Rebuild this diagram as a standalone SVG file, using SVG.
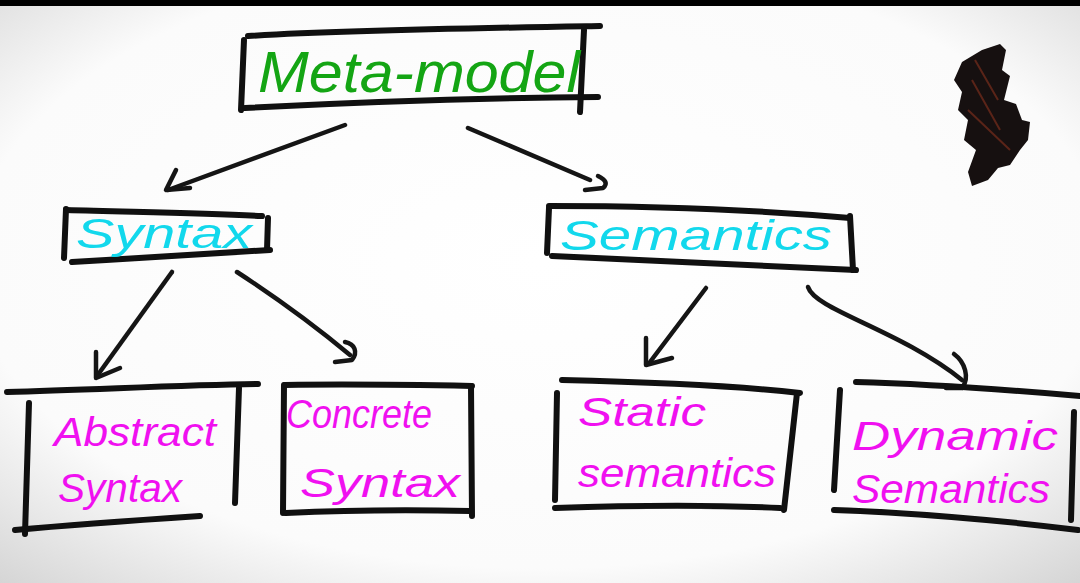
<svg xmlns="http://www.w3.org/2000/svg" width="1080" height="583" viewBox="0 0 1080 583">
<defs>
<radialGradient id="bg" cx="0.5" cy="0.45" r="0.75">
<stop offset="0" stop-color="#ffffff"/>
<stop offset="0.7" stop-color="#fbfbfb"/>
<stop offset="1" stop-color="#d4d4d4"/>
</radialGradient>
<style>
.ink{fill:none;stroke:#101010;stroke-width:6;stroke-linecap:round;stroke-linejoin:round}
.con{fill:none;stroke:#151515;stroke-width:4.5;stroke-linecap:round;stroke-linejoin:round}
.t{font-family:"Liberation Sans",Arial,sans-serif;font-style:italic}
.g{fill:#14a514;font-size:58px}
.c{fill:#12d8ec;font-size:42px}
.p{fill:#f010f0;font-size:40px}
</style>
</defs>
<rect width="1080" height="583" fill="url(#bg)"/>
<rect width="1080" height="6" fill="#000"/>

<g id="connectors">
<path class="con" d="M345 125 L168 190"/>
<path class="con" d="M176 170 L166 190 L190 188"/>
<path class="con" d="M468 128 L590 180"/>
<path class="con" d="M598 176 C606 180 608 184 603 188 L585 190"/>
<path class="con" d="M172 272 L97 376"/>
<path class="con" d="M96 352 L96 378 L120 368"/>
<path class="con" d="M237 272 C280 300 320 330 350 355"/>
<path class="con" d="M345 342 C355 344 358 352 352 360 L335 362"/>
<path class="con" d="M706 288 L650 362"/>
<path class="con" d="M646 338 L646 365 L672 358"/>
<path class="con" d="M808 287 C815 310 900 330 962 380"/>
<path class="con" d="M954 354 C965 362 970 378 962 388 L946 388"/>
</g>

<g id="metamodel">
<path class="ink" d="M248 36 C350 30 480 28 600 26"/>
<path class="ink" d="M244 40 L241 110"/>
<path class="ink" d="M584 30 L580 112"/>
<path class="ink" d="M245 108 C360 102 480 98 598 97"/>
<text class="t g" x="258" y="92" textLength="322" lengthAdjust="spacingAndGlyphs">Meta-model</text>
</g>

<g id="syntax">
<path class="ink" d="M66 209 L64 258"/>
<path class="ink" d="M66 210 C130 212 200 213 262 216"/>
<path class="ink" d="M268 218 L267 250"/>
<path class="ink" d="M72 262 C140 258 210 254 270 250"/>
<text class="t c" x="76" y="248" textLength="176" lengthAdjust="spacingAndGlyphs">Syntax</text>
</g>

<g id="semantics">
<path class="ink" d="M549 206 C650 206 760 210 850 218"/>
<path class="ink" d="M549 208 L547 253"/>
<path class="ink" d="M552 256 C650 260 760 266 856 270"/>
<path class="ink" d="M850 216 L853 270"/>
<text class="t c" x="560" y="250" textLength="272" lengthAdjust="spacingAndGlyphs">Semantics</text>
</g>

<g id="abstract">
<path class="ink" d="M7 392 C90 390 180 385 258 384"/>
<path class="ink" d="M29 403 L25 534"/>
<path class="ink" d="M239 388 L235 503"/>
<path class="ink" d="M15 530 C80 524 140 520 200 516"/>
<text class="t p" x="54" y="446" textLength="162" lengthAdjust="spacingAndGlyphs">Abstract</text>
<text class="t p" x="58" y="502" textLength="124" lengthAdjust="spacingAndGlyphs">Syntax</text>
</g>

<g id="concrete">
<path class="ink" d="M285 385 C350 384 420 385 472 386"/>
<path class="ink" d="M284 385 L283 513"/>
<path class="ink" d="M286 513 C350 510 420 510 470 511"/>
<path class="ink" d="M471 386 L472 516"/>
<text class="t p" x="286" y="428" textLength="146" lengthAdjust="spacingAndGlyphs">Concrete</text>
<text class="t p" x="300" y="497" textLength="160" lengthAdjust="spacingAndGlyphs">Syntax</text>
</g>

<g id="static">
<path class="ink" d="M562 380 C650 382 730 385 800 393"/>
<path class="ink" d="M557 393 L555 500"/>
<path class="ink" d="M797 393 L784 510"/>
<path class="ink" d="M555 508 C640 505 720 505 780 508"/>
<text class="t p" x="578" y="426" textLength="128" lengthAdjust="spacingAndGlyphs">Static</text>
<text class="t p" x="578" y="487" textLength="198" lengthAdjust="spacingAndGlyphs">semantics</text>
</g>

<g id="dynamic">
<path class="ink" d="M856 382 C930 384 1010 390 1080 396"/>
<path class="ink" d="M840 390 L834 490"/>
<path class="ink" d="M1074 412 L1071 520"/>
<path class="ink" d="M834 510 C900 512 1000 520 1078 530"/>
<text class="t p" x="852" y="450" textLength="206" lengthAdjust="spacingAndGlyphs">Dynamic</text>
<text class="t p" x="852" y="503" textLength="198" lengthAdjust="spacingAndGlyphs">Semantics</text>
</g>

<g id="scribble">
<path d="M1000 44 L1006 50 L1002 70 L1010 76 L1004 100 L1016 104 L1022 120 L1030 122 L1028 140 L1020 150 L1010 165 L998 168 L988 180 L972 186 L968 172 L976 150 L964 140 L968 120 L958 110 L962 92 L954 80 L962 62 L982 50 Z" fill="#161010"/>
<path d="M972 80 L1000 130 M968 110 L1010 150 M975 60 L998 100" stroke="#5a2418" stroke-width="2" fill="none"/>
</g>
</svg>
